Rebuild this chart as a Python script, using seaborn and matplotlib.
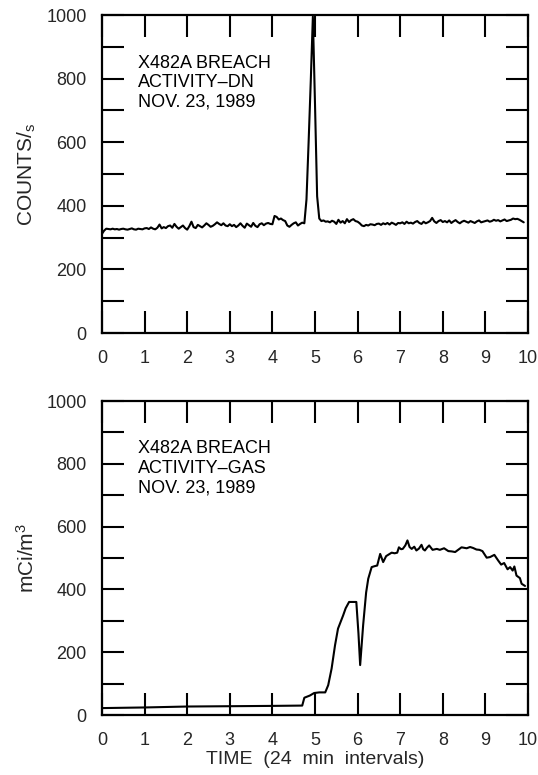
import numpy as np
import pandas as pd
import matplotlib
matplotlib.use("Agg")
import matplotlib.pyplot as plt
from matplotlib.ticker import MultipleLocator
import seaborn as sns

# ---------------- data ----------------
# Top panel: delayed-neutron counts, sampled every 0.05 interval from 0 to 9.90
dn_step = 0.05
dn_counts = [
    # 0.00 - 1.00
    312, 322, 328, 327, 326, 328, 326, 327, 325, 327, 328, 326, 325, 327, 329, 326, 325, 328, 327, 326, 329,
    # 1.05 - 2.00
    330, 327, 332, 328, 326, 331, 341, 329, 333, 330, 336, 338, 331, 343, 334, 328, 333, 338, 330, 325,
    # 2.05 - 3.00
    336, 350, 333, 330, 340, 336, 332, 338, 345, 340, 334, 337, 342, 348, 343, 339, 345, 338, 336, 342,
    # 3.05 - 4.00
    336, 340, 333, 338, 345, 337, 331, 344, 339, 334, 346, 337, 333, 342, 345, 339, 344, 346, 343, 342,
    # 4.05 - 4.70
    368, 365, 357, 360, 355, 352, 338, 334, 340, 345, 348, 338, 343, 347,
    # 4.75 - 5.10 (spike)
    345, 420, 600, 790, 995, 720, 430, 360,
    # 5.15 - 6.00
    352, 354, 350, 351, 348, 353, 350, 343, 356, 347, 352, 345, 358, 349, 355, 358, 352, 350,
    # 6.05 - 7.00
    345, 338, 336, 340, 338, 342, 341, 339, 343, 344, 340, 345, 342, 346, 341, 347, 344, 340, 346, 345,
    # 7.05 - 8.00
    348, 343, 350, 345, 347, 344, 349, 352, 346, 343, 350, 345, 348, 352, 362, 351, 346, 352, 355, 349,
    # 8.05 - 9.00
    352, 348, 354, 346, 351, 355, 349, 345, 350, 353, 350, 347, 352, 349, 346, 351, 354, 348, 350, 352,
    # 9.05 - 9.90
    354, 350, 352, 356, 353, 355, 351, 354, 357, 352, 354, 356, 360, 358, 359, 356, 352, 348,
]
dn_time = np.arange(len(dn_counts)) * dn_step

# Bottom panel: gas activity (mCi/m^3), read at the listed times
gas_time = [0.0, 1.0, 2.0, 3.0, 4.0, 4.70, 4.75, 4.88, 4.98, 5.10, 5.24, 5.31, 5.39, 5.47,
            5.54, 5.66, 5.72, 5.80, 5.97, 6.02, 6.06, 6.13, 6.20, 6.25, 6.33, 6.40, 6.46,
            6.53, 6.60, 6.67, 6.74, 6.80, 6.87, 6.93, 6.97, 7.02, 7.06, 7.12, 7.17, 7.22,
            7.27, 7.33, 7.38, 7.44, 7.50, 7.54, 7.58, 7.63, 7.68, 7.76, 7.86, 7.93, 8.03,
            8.13, 8.21, 8.29, 8.37, 8.44, 8.56, 8.64, 8.71, 8.79, 8.86, 8.93, 9.03, 9.11,
            9.21, 9.30, 9.37, 9.44, 9.52, 9.58, 9.64, 9.68, 9.73, 9.81, 9.85, 9.93]
gas_activity = [22, 24, 27, 28, 29, 30, 55, 62, 70, 72, 72, 95, 148, 222,
                275, 317, 340, 360, 360, 260, 159, 286, 390, 434, 471, 474, 476,
                513, 487, 506, 512, 517, 515, 517, 534, 528, 529, 540, 556, 535,
                529, 536, 524, 530, 542, 528, 524, 533, 540, 526, 529, 526, 531,
                522, 521, 519, 527, 534, 531, 535, 532, 527, 526, 522, 501, 503,
                510, 492, 479, 484, 464, 471, 460, 473, 444, 436, 418, 411]

panel_texts = ["X482A BREACH\nACTIVITY\u2013DN\nNOV. 23, 1989",
               "X482A BREACH\nACTIVITY\u2013GAS\nNOV. 23, 1989"]
y_labels = [r"COUNTS/$_{\mathregular{s}}$", r"mCi/m$^{\mathregular{3}}$"]
x_label = "TIME  (24  min  intervals)"

df_dn = pd.DataFrame({"time": dn_time, "value": dn_counts})
df_gas = pd.DataFrame({"time": gas_time, "value": gas_activity})

# ---------------- style ----------------
sns.set_style("ticks")
plt.rcParams["font.family"] = ["Liberation Sans", "DejaVu Sans"]
plt.rcParams["mathtext.fontset"] = "custom"
plt.rcParams["mathtext.rm"] = "Liberation Sans"
plt.rcParams["mathtext.it"] = "Liberation Sans"

W, H = 538, 775
fig = plt.figure(figsize=(W / 100, H / 100), dpi=100)
ax1 = fig.add_axes([102 / W, 1 - 333 / H, 426 / W, 318 / H])
ax2 = fig.add_axes([102 / W, 1 - 715 / H, 426 / W, 314 / H])

for ax, df, txt, yl in [(ax1, df_dn, panel_texts[0], y_labels[0]),
                        (ax2, df_gas, panel_texts[1], y_labels[1])]:
    sns.lineplot(data=df, x="time", y="value", ax=ax, color="black",
                 linewidth=1.5, estimator=None, sort=False)
    ax.set_xlim(0, 10)
    ax.set_ylim(0, 1000)
    ax.xaxis.set_major_locator(MultipleLocator(1))
    ax.yaxis.set_major_locator(MultipleLocator(200))
    ax.yaxis.set_minor_locator(MultipleLocator(100))
    ax.tick_params(axis="both", which="both", direction="in", length=16,
                   width=1.5, top=True, right=True, labelsize=13, color="black")
    ax.tick_params(axis="x", which="minor", bottom=False, top=False)
    ax.tick_params(axis="x", which="major", pad=12)
    ax.tick_params(axis="y", which="major", pad=11)
    for s in ax.spines.values():
        s.set_linewidth(1.6)
        s.set_color("black")
    ax.set_ylabel(yl, fontsize=15, labelpad=6)
    ax.set_xlabel("")
    ax.text(0.85, 875, txt, fontsize=13, va="top", ha="left",
            linespacing=1.2, color="black")

ax2.set_xlabel(x_label, fontsize=14, labelpad=2)

fig.savefig("out.png", dpi=100, facecolor="white")
